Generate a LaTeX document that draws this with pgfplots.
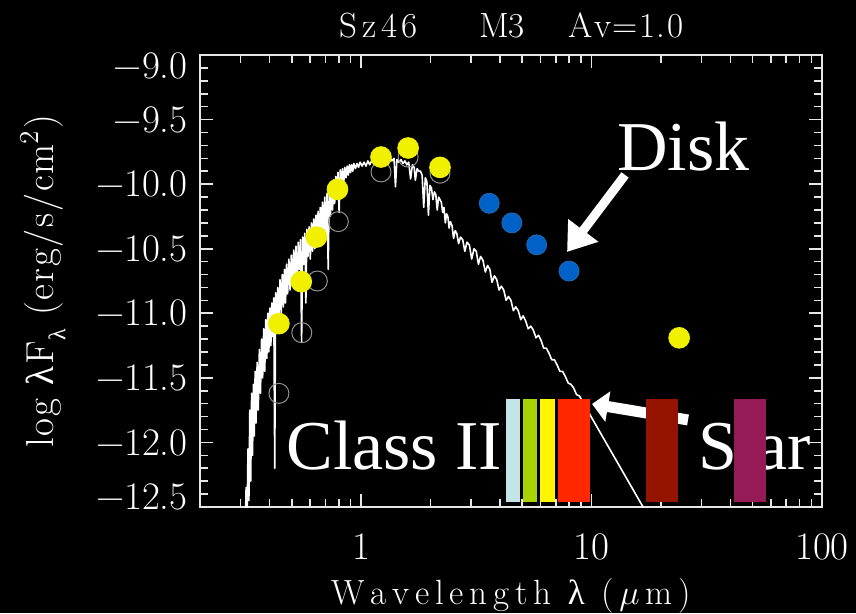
\documentclass[border=0pt]{standalone}
\usepackage{fontspec}
\usepackage{pgfplots}
\pgfplotsset{compat=1.18}
\usetikzlibrary{arrows.meta}
\newfontfamily\tms{Liberation Serif}
\newcommand{\fz}[1]{\fontsize{#1}{#1}\selectfont}
\def\ka{\kern2.9pt}
\def\kb{\kern0.9pt}
\def\kc{\kern2.3pt}
\def\kd{\kern0.7pt}
\definecolor{cLB}{HTML}{C3E4E8}
\definecolor{cGR}{HTML}{A9D300}
\definecolor{cYE}{HTML}{FFF600}
\definecolor{cRE}{HTML}{FF2800}
\definecolor{cDR}{HTML}{951400}
\definecolor{cPU}{HTML}{951A55}
\definecolor{cPT}{HTML}{F0F000}
\definecolor{cBL}{HTML}{0062C8}
\definecolor{cAX}{HTML}{E6E6E6}
\begin{document}
\begin{tikzpicture}
\fill[black] (-100pt,-53pt) rectangle (328pt,253.5pt);
\begin{axis}[
  at={(0pt,0pt)}, anchor=south west,
  scale only axis, width=311pt, height=226pt,
  clip mode=individual,
  xmode=log, xmin=0.2, xmax=100, ymin=-12.5, ymax=-9.0,
  xtick={1,10,100}, xticklabels={1,10,100},
  minor xtick={0.2,0.3,0.4,0.5,0.6,0.7,0.8,0.9,2,3,4,5,6,7,8,9,20,30,40,50,60,70,80,90},
  ytick={-12.5,-12,-11.5,-11,-10.5,-10,-9.5,-9},
  yticklabels={\raisebox{-1.3pt}[0pt][0pt]{\textminus12.5},\textminus12.0,\textminus11.5,\textminus11.0,\textminus10.5,\textminus10.0,\textminus9.5,\raisebox{-11.5pt}[0pt][0pt]{\textminus9.0}},
  minor y tick num=4,
  axis line style={cAX, line width=1pt},
  tick style={cAX, line width=0.8pt},
  major tick length=6.5pt, minor tick length=3.8pt,
  tick align=inside,
  xticklabel style={white, inner sep=0pt, anchor=north, yshift=-13pt, font=\fz{19.5}},
  yticklabel style={white, inner sep=0pt, anchor=east, xshift=-6pt, font=\fz{19.5}},
]
% stellar photosphere model spectrum
\addplot[white, line width=0.8pt, line join=round] coordinates {
(0.314,-12.70) (0.317,-12.35) (0.320,-12.65) (0.323,-12.05) (0.326,-12.45) (0.329,-11.75)
(0.332,-12.30) (0.335,-11.62) (0.338,-12.10) (0.341,-11.55) (0.344,-11.95) (0.347,-11.45)
(0.350,-11.85) (0.354,-11.38) (0.358,-11.75) (0.362,-11.28) (0.366,-11.62) (0.370,-11.20)
(0.374,-11.50) (0.378,-11.12) (0.382,-11.45) (0.386,-11.05) (0.390,-11.35) (0.394,-11.00)
(0.398,-11.30) (0.402,-10.96) (0.406,-11.25) (0.410,-10.92) (0.414,-11.18) (0.418,-10.88)
(0.422,-12.20) (0.426,-10.84) (0.430,-11.15) (0.435,-10.80) (0.440,-11.05) (0.445,-10.74)
(0.450,-11.00) (0.455,-10.70) (0.460,-10.95) (0.465,-10.66) (0.470,-10.92) (0.475,-10.62)
(0.480,-10.85) (0.486,-10.58) (0.492,-10.82) (0.498,-10.55) (0.504,-10.76) (0.510,-10.51)
(0.516,-10.72) (0.522,-10.48) (0.528,-10.80) (0.534,-10.45) (0.540,-10.66) (0.546,-10.43)
(0.552,-11.22) (0.558,-10.41) (0.564,-10.62) (0.570,-10.38) (0.576,-10.92) (0.582,-10.35)
(0.588,-10.56) (0.595,-10.33) (0.602,-10.58) (0.609,-10.30) (0.616,-10.52) (0.623,-10.27)
(0.630,-10.50) (0.637,-10.24) (0.644,-10.46) (0.651,-10.21) (0.658,-10.44) (0.665,-10.18)
(0.672,-10.38) (0.680,-10.14) (0.688,-10.36) (0.696,-10.10) (0.704,-10.40) (0.712,-10.07)
(0.720,-10.66) (0.728,-10.03) (0.736,-10.25) (0.744,-10.00) (0.752,-10.20) (0.760,-9.97)
(0.768,-10.15) (0.776,-9.94) (0.785,-10.10) (0.794,-9.91) (0.803,-10.22) (0.812,-9.89)
(0.821,-10.05) (0.830,-9.88) (0.840,-10.00) (0.850,-9.87) (0.860,-9.95) (0.870,-9.86)
(0.880,-9.93) (0.890,-9.85) (0.900,-9.91) (0.910,-9.85) (0.920,-9.90) (0.930,-9.84)
(0.945,-9.88) (0.960,-9.84) (0.975,-9.87) (0.990,-9.83) (1.010,-9.86) (1.030,-9.83)
(1.050,-9.86) (1.070,-9.82) (1.090,-9.85) (1.110,-9.82) (1.135,-9.84) (1.160,-9.81)
(1.185,-9.84) (1.210,-9.80) (1.240,-9.83) (1.270,-9.80) (1.300,-9.82) (1.330,-9.79)
(1.360,-9.82) (1.390,-9.80) (1.410,-10.02) (1.430,-9.81) (1.460,-9.83) (1.490,-9.81)
(1.520,-9.84) (1.550,-9.82) (1.580,-9.85) (1.610,-9.83) (1.640,-9.96) (1.670,-9.85)
(1.700,-9.87) (1.720,-9.97) (1.750,-9.88) (1.780,-9.90) (1.810,-9.90) (1.840,-9.93)
(1.870,-10.18) (1.900,-9.95) (1.930,-9.98) (1.960,-10.24) (1.990,-10.01) (2.020,-10.03)
(2.050,-10.12) (2.080,-10.06) (2.110,-10.08) (2.140,-10.20) (2.170,-10.10) (2.200,-10.12)
(2.230,-10.14) (2.260,-10.22) (2.290,-10.18) (2.320,-10.30) (2.350,-10.23) (2.380,-10.25)
(2.410,-10.34) (2.440,-10.29) (2.480,-10.32) (2.520,-10.42) (2.560,-10.36) (2.600,-10.38)
(2.650,-10.46) (2.700,-10.41) (2.760,-10.43) (2.820,-10.52) (2.880,-10.45) (2.950,-10.47)
(3.020,-10.58) (3.090,-10.50) (3.160,-10.52) (3.230,-10.62) (3.300,-10.56) (3.380,-10.59)
(3.460,-10.68) (3.540,-10.63) (3.620,-10.66) (3.700,-10.76) (3.790,-10.71) (3.880,-10.74)
(3.970,-10.82) (4.060,-10.79) (4.160,-10.82) (4.260,-10.90) (4.360,-10.87) (4.470,-10.90)
(4.580,-10.98) (4.690,-10.95) (4.810,-10.98) (4.930,-11.05) (5.050,-11.02) (5.180,-11.06)
(5.310,-11.12) (5.450,-11.10) (5.590,-11.13) (5.740,-11.19) (5.890,-11.17) (6.040,-11.21)
(6.200,-11.27) (6.370,-11.27) (6.540,-11.31) (6.720,-11.36) (6.900,-11.36) (7.090,-11.40)
(7.290,-11.45) (7.490,-11.45) (7.700,-11.49) (7.920,-11.54) (8.140,-11.55) (8.370,-11.58)
(8.610,-11.63) (8.860,-11.64) (9.120,-11.68) (9.390,-11.72) (9.670,-11.76) (9.950,-11.80)
(16.73,-12.50) (18.0,-12.62)
};
% photosphere photometry (open circles)
\addplot[only marks, mark=o, mark size=5pt, mark options={draw=gray!85, line width=0.5pt}] coordinates {
(0.44,-11.62) (0.553,-11.15) (0.646,-10.75) (0.797,-10.29) (1.22,-9.905) (1.60,-9.79) (2.20,-9.915)
};
% observed photometry
\addplot[only marks, mark=*, mark size=5.2pt, mark options={fill=cPT, draw=cPT}] coordinates {
(0.44,-11.08) (0.55,-10.755) (0.64,-10.41) (0.79,-10.04) (1.22,-9.79) (1.60,-9.72) (2.20,-9.87) (24.0,-11.19)
};
\addplot[only marks, mark=*, mark size=5pt, mark options={fill=cBL, draw=cBL!70!gray, line width=0.4pt}] coordinates {
(3.60,-10.148) (4.51,-10.30) (5.78,-10.47) (7.99,-10.673)
};
% title and axis labels
\node[white, inner sep=0pt, anchor=base, font=\fz{17.5}] at ([yshift=9pt]rel axis cs:0.2878,1) {S\kc z\kc 4\kc 6};
\node[white, inner sep=0pt, anchor=base, font=\fz{17.5}] at ([yshift=9pt]rel axis cs:0.4855,1) {M3};
\node[white, inner sep=0pt, anchor=base, font=\fz{17.5}] at ([yshift=9pt]rel axis cs:0.6849,1) {A\kd v\kd=\kd 1\kd.\kd 0};
\node[white, inner sep=0pt, anchor=north, font=\fz{17.5}] at (rel axis cs:0.5,-0.157) {W\ka a\ka v\ka e\ka l\ka e\ka n\ka g\ka t\ka h\ka\ {\tms λ}\ka\ (\ka$\mu$\ka m\ka)};
\node[white, inner sep=0pt, anchor=north, rotate=90, font=\fz{19.5}] at (rel axis cs:-0.2894,0.5) {l\kb o\kb g\kb\ {\tms λ}\kb F\raisebox{-0.3em}{\fz{12}\tms λ}\kb\ (\kb e\kb r\kb g\kb/\kb s\kb/\kb c\kb m\textsuperscript{2}\kb)};
% annotations
\node[anchor=base west, inner sep=0pt, white, font=\tms\fz{35}] at (axis cs:0.4728,-12.206) {Class II};
\node[anchor=base west, inner sep=0pt, white, font=\tms\fz{35}] at (axis cs:12.9,-9.898) {Disk};
\draw[white, line width=4.5pt, -{Triangle[length=13.5pt,width=18pt]}] (axis cs:13.98,-9.929) -- (axis cs:7.83,-10.525);
\draw[white, line width=5.5pt, -{Triangle[length=8pt,width=15pt]}] (axis cs:26.22,-11.826) -- (axis cs:10.05,-11.702);
\node[anchor=base west, inner sep=0pt, white, font=\tms\fz{35}] at (axis cs:28.97,-12.206) {Star};
% filter bands
\addplot[fill=cLB, draw=none] coordinates {(4.26,-12.459) (4.88,-12.459) (4.88,-11.666) (4.26,-11.666)};
\addplot[fill=cGR, draw=none] coordinates {(5.03,-12.459) (5.80,-12.459) (5.80,-11.666) (5.03,-11.666)};
\addplot[fill=cYE, draw=none] coordinates {(5.98,-12.459) (6.91,-12.459) (6.91,-11.666) (5.98,-11.666)};
\addplot[fill=cRE, draw=none] coordinates {(7.15,-12.459) (9.85,-12.459) (9.85,-11.666) (7.15,-11.666)};
\addplot[fill=cDR, draw=none] coordinates {(17.24,-12.459) (23.73,-12.459) (23.73,-11.666) (17.24,-11.666)};
\addplot[fill=cPU, draw=none] coordinates {(41.5,-12.459) (57.2,-12.459) (57.2,-11.666) (41.5,-11.666)};
\end{axis}
\end{tikzpicture}
\end{document}
